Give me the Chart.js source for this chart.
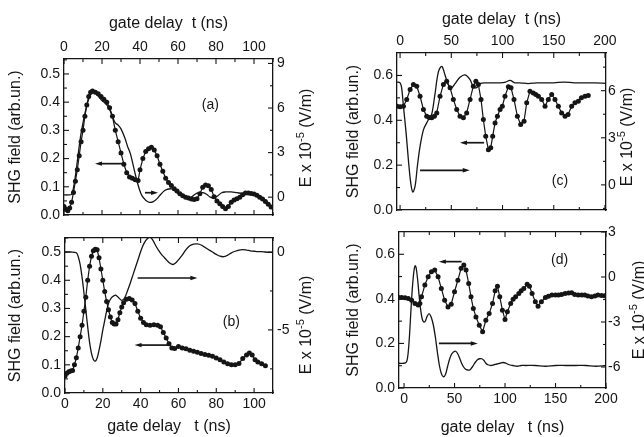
<!DOCTYPE html>
<html>
<head>
<meta charset="utf-8">
<script src="https://cdn.jsdelivr.net/npm/chart.js@4.4.0/dist/chart.umd.min.js"></script>
<style>
  html, body { margin: 0; padding: 0; background: #fff; overflow: hidden; }
  #wrap { position: relative; width: 644px; height: 437px; }
  #wrap canvas { position: absolute; left: 0; top: 0; }
</style>
</head>
<body>
<div id="wrap">
  <canvas id="pa" width="644" height="437"></canvas>
  <canvas id="pb" width="644" height="437"></canvas>
  <canvas id="pc" width="644" height="437"></canvas>
  <canvas id="pd" width="644" height="437"></canvas>
</div>
<script>
// ---- data: [t (ns), value] ----
// dotted = SHG field (left axis), line = E x 10^-5 (right axis)
const shgA = [[0,0.03],[1,0.02],[2,0.015],[3,0.025],[4,0.045],[5,0.08],[6,0.12],[7,0.16],[8,0.21],[9,0.26],[10,0.30],[11,0.35],[12,0.39],[13,0.42],[14,0.435],[15,0.44],
  [16.5,0.435],[18,0.43],[19.5,0.42],[21,0.41],[22.5,0.40],[24,0.38],[25.5,0.35],[27,0.30],[28.5,0.26],[30,0.22],[31.5,0.18],[33,0.15],[34.5,0.135],[36,0.13],[37.5,0.125],[39,0.122],
  [40,0.16],[41.5,0.2],[43,0.225],[44.5,0.235],[46,0.24],[47.5,0.23],[49,0.21],[50.5,0.18],[52,0.155],[53.5,0.13],[55,0.115],[56.5,0.105],[58,0.093],[59.5,0.085],[61,0.075],
  [62.5,0.068],[64,0.063],[65.5,0.06],[67,0.057],[68.5,0.055],[70,0.058],[71.5,0.075],[73,0.098],[74.5,0.106],[76,0.104],[77.5,0.09],[79,0.065],[80.5,0.05],[82,0.04],[83.5,0.03],
  [85,0.022],[86.5,0.03],[88,0.045],[89.5,0.053],[91,0.058],[92.5,0.063],[94,0.072],[95.5,0.078],[97,0.078],[98.5,0.076],[100,0.074],[101.5,0.07],[103,0.063],[104.5,0.057],
  [106,0.048],[107.5,0.038],[109,0.028]];
const fieldA = [[0,0.15],[2,0.15],[4,0.2],[5.5,1.0],[7,2.4],[8.5,3.9],[10,5.0],[11.5,5.9],[13,6.6],[14.5,7.0],[16,7.05],[18,6.8],[20,6.5],[22,6.3],[24,5.9],[25.5,5.4],[27,5.0],
  [28.5,4.85],[30,4.6],[32,4.0],[33.5,3.4],[35,2.9],[36.5,2.1],[38,1.3],[39.5,0.6],[41,0.1],[43,-0.2],[45,-0.35],[47,-0.3],[49,-0.1],[51,0.2],[53,0.45],[55,0.55],[57,0.55],
  [59,0.35],[61,0.15],[63,0.0],[65,-0.1],[67,0.0],[69,0.2],[71,0.3],[73,0.3],[75,0.2],[77,0.0],[79,-0.05],[81,0.1],[83,0.3],[85,0.35],[88,0.35],[91,0.3],[94,0.25],[97,0.25],
  [100,0.25],[102,0.1],[104,-0.1],[106,-0.3],[108,-0.5],[110,-0.7]];

const shgB = [[0,0.06],[1,0.07],[2,0.075],[3,0.078],[4,0.08],[5,0.1],[6,0.125],[7,0.16],[8,0.2],[9,0.24],[10,0.29],[11,0.34],[12,0.4],[13,0.45],[14,0.485],[15,0.505],[16,0.51],
  [17,0.508],[18,0.48],[19,0.44],[20,0.4],[21,0.36],[22,0.325],[23,0.295],[24,0.27],[25,0.25],[26,0.245],[27,0.245],[28,0.26],[29,0.285],[30,0.305],[31,0.32],[32.5,0.333],
  [34,0.335],[35.5,0.33],[37,0.318],[38.5,0.29],[40,0.265],[41.5,0.25],[43,0.242],[45,0.24],[47,0.242],[49,0.24],[50.5,0.235],[52,0.215],[53.5,0.195],[55,0.175],[56.5,0.16],
  [58,0.158],[60,0.165],[62,0.16],[64,0.157],[66,0.152],[68,0.148],[70,0.145],[72,0.14],[74,0.137],[76,0.134],[78,0.13],[80,0.124],[82,0.118],[84,0.11],[86,0.104],[88,0.1],
  [90,0.1],[92,0.105],[94,0.122],[96,0.135],[97.5,0.142],[99,0.135],[100.5,0.118],[102,0.11],[104,0.104],[106,0.097]];
const fieldB = [[0,0],[3,0],[6,-0.05],[7,-0.3],[8,-0.8],[9,-1.6],[10,-2.6],[11,-3.7],[12,-4.8],[13,-5.8],[14,-6.5],[15,-6.9],[16,-7.0],[17,-6.8],[18,-6.3],[19,-5.7],[20,-5.0],
  [21,-4.4],[22,-3.8],[23,-3.3],[24.5,-2.95],[26,-2.8],[27,-2.78],[28.5,-2.95],[30,-3.1],[31.5,-2.95],[33,-2.5],[34.5,-2.0],[36,-1.45],[37.5,-0.9],[39,-0.35],[40.5,0.2],
  [42,0.6],[43.5,0.85],[45,0.95],[46.5,0.75],[48,0.4],[49.5,0.1],[51,-0.15],[52.5,-0.35],[54,-0.55],[55.5,-0.72],[57,-0.8],[58.5,-0.7],[60,-0.5],[62,-0.2],[64,0.15],[66,0.4],
  [68,0.5],[70,0.52],[72,0.45],[74,0.3],[76,0.15],[78,0.0],[80,-0.15],[82,-0.27],[84,-0.3],[86,-0.2],[88,-0.05],[90,0.05],[92,0.12],[94,0.15],[96,0.12],[98,0.08],[100,0.05],
  [102,0.02],[104,0.03],[106,0.0],[108,-0.02],[110,-0.03]];

const shgC = [[-3,0.463],[0,0.46],[3.3,0.463],[6.5,0.493],[9.8,0.537],[13,0.56],[16.3,0.552],[19.5,0.507],[22.8,0.448],[26,0.418],[28.5,0.412],[30.9,0.411],[33.5,0.418],
  [35.8,0.433],[39,0.507],[42.3,0.56],[45.5,0.574],[48.8,0.545],[52,0.493],[55.3,0.448],[58.5,0.418],[61.8,0.411],[65,0.433],[68.3,0.493],[71.5,0.552],[74,0.574],[76.4,0.56],
  [79,0.493],[81.3,0.403],[83.6,0.329],[86.2,0.269],[88.5,0.277],[90.4,0.329],[92.7,0.388],[95,0.418],[97.6,0.448],[99.8,0.463],[102.4,0.507],[105.7,0.549],[108.3,0.545],
  [111.2,0.493],[114.5,0.418],[117.7,0.381],[121,0.396],[123.6,0.478],[126.8,0.53],[130,0.522],[132.5,0.515],[135,0.507],[138.2,0.493],[141.5,0.463],[144.7,0.493],[148,0.515],
  [151.2,0.493],[154.5,0.463],[157.7,0.433],[161,0.418],[164,0.426],[167.5,0.463],[170.7,0.478],[174,0.485],[177,0.5],[180.5,0.507],[183.7,0.51]];
const fieldC = [[-3,6.55],[0,6.5],[1.5,6.2],[3.3,5.0],[5.9,3.3],[8.1,1.6],[10.4,0.13],[12.4,-0.45],[14.6,-0.1],[16.9,1.2],[19.5,2.45],[22.8,3.5],[26,3.95],[28.6,4.25],
  [30.9,4.5],[34.1,5.8],[37.4,7.2],[40.7,7.55],[43.9,7.0],[47.2,6.35],[50.4,6.2],[53.7,6.45],[58.5,6.85],[63.4,7.0],[68.3,6.7],[71.5,6.25],[74.8,6.2],[78,6.45],[84.6,6.5],
  [90,6.5],[97.6,6.5],[103,6.55],[107.3,6.65],[112,6.5],[117,6.5],[125,6.45],[133,6.5],[140,6.5],[150,6.5],[160,6.55],[170,6.5],[180,6.5],[190,6.5],[201,6.47]];

const shgD = [[-5,0.406],[-2.3,0.406],[1,0.405],[4.2,0.402],[7.5,0.394],[10.8,0.379],[14,0.372],[15.7,0.379],[17.3,0.409],[20.6,0.462],[23.9,0.499],[27.1,0.522],[30.4,0.529],
  [33.7,0.499],[36.9,0.447],[40.2,0.394],[43.5,0.364],[46.7,0.376],[50,0.432],[53.3,0.484],[56.5,0.537],[59.2,0.552],[61.4,0.529],[64,0.469],[66.3,0.409],[68.6,0.357],
  [71.2,0.319],[74.5,0.282],[77.8,0.252],[81,0.304],[84.3,0.334],[87.6,0.379],[90.2,0.436],[92.5,0.457],[94.8,0.409],[97.4,0.349],[100,0.307],[102.3,0.342],[105.6,0.379],
  [108,0.398],[110.5,0.409],[113.7,0.424],[116,0.436],[118.6,0.447],[121.9,0.466],[124.2,0.457],[126.8,0.424],[130,0.387],[132.7,0.367],[136,0.387],[140,0.406],[143,0.412],
  [146.4,0.417],[150,0.417],[153,0.417],[156,0.42],[159.5,0.424],[163,0.426],[166,0.427],[169,0.42],[172.5,0.417],[176,0.417],[179,0.417],[182,0.413],[185.6,0.409],
  [189,0.413],[192,0.417],[195.5,0.415],[198.7,0.414]];
const fieldD = [[-5,-5.75],[0,-5.75],[2.5,-5.65],[4,-5.1],[5.5,-3.8],[7,-2.0],[8.5,-0.5],[10,0.5],[11,0.75],[12,0.6],[13.5,-0.2],[15,-1.3],[16.5,-2.2],[18,-2.8],[19.5,-3.0],
  [21,-2.95],[23,-2.6],[25,-2.45],[27,-2.7],[29,-3.2],[31,-4.0],[33,-5.0],[35,-5.9],[37,-6.45],[39,-6.65],[41,-6.5],[43,-6.0],[45,-5.5],[47,-5.15],[49,-5.0],[51,-4.95],
  [53,-5.1],[55,-5.4],[57,-5.75],[59,-6.0],[61,-6.15],[63,-6.2],[65,-6.2],[67,-6.05],[69,-5.85],[71,-5.65],[73,-5.5],[75,-5.45],[77,-5.45],[79,-5.55],[81,-5.75],[83,-5.85],
  [86,-5.9],[89,-5.85],[92,-5.8],[95,-5.75],[98,-5.7],[101,-5.75],[104,-5.85],[108,-5.9],[112,-5.95],[116,-5.9],[120,-5.9],[130,-5.9],[140,-5.95],[150,-5.9],[160,-5.9],
  [170,-5.9],[180,-5.9],[190,-5.95],[200,-5.9]];

// ---- tick labels ----
const xTicksAB = [0, 20, 40, 60, 80, 100];
const xTicksCD = [0, 50, 100, 150, 200];
const shgTicksAB = [0, 0.1, 0.2, 0.3, 0.4, 0.5];
const shgTicksCD = [0, 0.2, 0.4, 0.6];
const fieldTicksA = [0, 3, 6, 9];
const fieldTicksB = [0, -5];
const fieldTicksC = [0, 3, 6];
const fieldTicksD = [3, 0, -3, -6];

const INK = '#151515';
const FONT = 'Arial, "Liberation Sans", Helvetica, sans-serif';

// inward tick marks, arrows, panel letter and the right-hand axis title
const extras = {
  id: 'extras',
  afterDraw(chart, args, o) {
    const ctx = chart.ctx, a = chart.chartArea;
    const sx = chart.scales.x, sy = chart.scales.y;
    ctx.save();
    ctx.strokeStyle = INK;
    ctx.lineWidth = 1.1;
    Object.values(chart.scales).forEach(s => {
      const vals = s.ticks.map(t => t.value);
      const step = vals.length > 1 ? vals[1] - vals[0] : 0;
      const marks = vals.map(v => [v, 5]);
      if (step) {
        for (let i = -1; i < vals.length; i++) marks.push([vals[0] + (i + 0.5) * step, 3]);
      }
      const lo = Math.min(s.min, s.max), hi = Math.max(s.min, s.max);
      marks.forEach(([v, len]) => {
        if (v < lo || v > hi) return;
        const p = s.getPixelForValue(v);
        ctx.beginPath();
        if (s.isHorizontal()) {
          const y0 = s.position === 'top' ? a.top : a.bottom;
          const d = s.position === 'top' ? len : -len;
          ctx.moveTo(p, y0); ctx.lineTo(p, y0 + d);
        } else {
          const x0 = s.position === 'left' ? a.left : a.right;
          const d = s.position === 'left' ? len : -len;
          ctx.moveTo(x0, p); ctx.lineTo(x0 + d, p);
        }
        ctx.stroke();
      });
    });

    // arrows showing which axis a curve belongs to
    ctx.fillStyle = INK;
    (o.arrows || []).forEach(ar => {
      const x1 = sx.getPixelForValue(ar.from), x2 = sx.getPixelForValue(ar.to);
      const y = sy.getPixelForValue(ar.y);
      const dir = Math.sign(x2 - x1);
      ctx.lineWidth = 1.7;
      ctx.beginPath(); ctx.moveTo(x1, y); ctx.lineTo(x2 - dir * 4, y); ctx.stroke();
      ctx.beginPath();
      ctx.moveTo(x2, y); ctx.lineTo(x2 - dir * 7, y - 2.2); ctx.lineTo(x2 - dir * 7, y + 2.2);
      ctx.closePath(); ctx.fill();
    });

    // panel letter
    if (o.letter) {
      ctx.font = '14px ' + FONT;
      ctx.textAlign = 'center'; ctx.textBaseline = 'middle';
      ctx.fillText(o.letter.text, sx.getPixelForValue(o.letter.x), sy.getPixelForValue(o.letter.y));
    }

    // right axis title, read bottom to top, with superscript exponent
    if (o.rTitle) {
      const big = '16px ' + FONT, small = '11px ' + FONT;
      const parts = [['E x 10', big, 0], ['-5', small, -6], [' (V/m)', big, 0]];
      let total = 0;
      const widths = parts.map(([t, f]) => { ctx.font = f; const w = ctx.measureText(t).width; total += w; return w; });
      ctx.translate(o.rTitle.x, o.rTitle.y);
      ctx.rotate(-Math.PI / 2);
      ctx.textAlign = 'left'; ctx.textBaseline = 'middle';
      let cx = -total / 2;
      parts.forEach(([t, f, dy], i) => { ctx.font = f; ctx.fillText(t, cx, dy); cx += widths[i]; });
    }
    ctx.restore();
  }
};

function panel(id, p) {
  const xTop = p.xSide === 'top';
  const tickFont = { family: FONT, size: 14 };
  const titleFont = { family: FONT, size: 16, lineHeight: 1 };
  const fixTicks = list => s => { s.ticks = list.map(v => ({ value: v })); };
  const common = { type: 'linear', grid: { display: false, drawTicks: false }, border: { color: INK, width: 1.3 } };

  new Chart(document.getElementById(id), {
    type: 'scatter',
    data: {
      datasets: [
        {
          data: p.shg.map(([x, y]) => ({ x, y })),
          xAxisID: 'x', yAxisID: 'y', showLine: true,
          borderColor: INK, borderWidth: 1.2,
          pointRadius: 2.5, pointBackgroundColor: INK, pointBorderWidth: 0
        },
        {
          data: p.field.map(([x, y]) => ({ x, y })),
          xAxisID: 'x', yAxisID: 'y2', showLine: true,
          borderColor: INK, borderWidth: 1.3, pointRadius: 0, tension: 0.35
        }
      ]
    },
    options: {
      responsive: false,
      devicePixelRatio: 1,
      animation: false,
      events: [],
      layout: { padding: { left: p.outer.l, top: p.outer.t, right: 644 - p.outer.r, bottom: 437 - p.outer.b } },
      plugins: {
        legend: { display: false },
        tooltip: { enabled: false },
        extras: { arrows: p.arrows, letter: p.letter, rTitle: p.rTitle }
      },
      scales: {
        x: {
          ...common, position: p.xSide, min: p.xMin, max: p.xMax,
          afterBuildTicks: fixTicks(p.xTicks),
          ticks: { font: tickFont, color: INK, padding: 3, maxRotation: 0, autoSkip: false },
          title: { display: true, text: p.xTitle, font: titleFont, color: INK, padding: 0 },
          afterFit: s => { s.height = xTop ? p.plot.t - p.outer.t : p.outer.b - p.plot.b; }
        },
        x2: {
          ...common, position: xTop ? 'bottom' : 'top', min: p.xMin, max: p.xMax,
          afterBuildTicks: fixTicks(p.xTicks),
          ticks: { display: false },
          afterFit: s => { s.height = xTop ? p.outer.b - p.plot.b : p.plot.t - p.outer.t; }
        },
        y: {
          ...common, position: 'left', min: p.yMin, max: p.yMax,
          afterBuildTicks: fixTicks(p.yTicks),
          ticks: { font: tickFont, color: INK, padding: 4, callback: v => v.toFixed(1) },
          title: { display: true, text: 'SHG field (arb.un.)', font: titleFont, color: INK, padding: 0 },
          afterFit: s => { s.width = p.plot.l - p.outer.l; }
        },
        y2: {
          ...common, position: 'right', min: p.y2Min, max: p.y2Max,
          afterBuildTicks: fixTicks(p.y2Ticks),
          ticks: { font: tickFont, color: INK, padding: p.rPad, callback: v => String(v) },
          afterFit: s => { s.width = p.outer.r - p.plot.r; }
        }
      }
    },
    plugins: [extras]
  });
}

panel('pa', {
  shg: shgA, field: fieldA, xSide: 'top', xTitle: 'gate delay  t (ns)',
  xMin: 0, xMax: 110, xTicks: xTicksAB,
  yMin: 0, yMax: 0.553, yTicks: shgTicksAB,
  y2Min: -1.2, y2Max: 9.3, y2Ticks: fieldTicksA, rPad: 4,
  plot: { l: 64, t: 59, r: 273, b: 215 }, outer: { l: 8, t: 16, r: 320, b: 230 },
  rTitle: { x: 307, y: 138 },
  letter: { text: '(a)', x: 77, y: 0.39 },
  arrows: [{ from: 30.5, to: 16.3, y: 0.182 }, { from: 42.6, to: 49.5, y: 0.079 }]
});

panel('pb', {
  shg: shgB, field: fieldB, xSide: 'bottom', xTitle: 'gate delay   t (ns)',
  xMin: 0, xMax: 110, xTicks: xTicksAB,
  yMin: 0, yMax: 0.55, yTicks: shgTicksAB,
  y2Min: -9.05, y2Max: 0.9, y2Ticks: fieldTicksB, rPad: 4,
  plot: { l: 65, t: 238, r: 273, b: 393 }, outer: { l: 8, t: 225, r: 320, b: 435 },
  rTitle: { x: 307, y: 325 },
  letter: { text: '(b)', x: 88, y: 0.25 },
  arrows: [{ from: 38.4, to: 70, y: 0.408 }, { from: 54.7, to: 36.8, y: 0.17 }]
});

panel('pc', {
  shg: shgC, field: fieldC, xSide: 'top', xTitle: 'gate delay  t (ns)',
  xMin: -3, xMax: 201, xTicks: xTicksCD,
  yMin: 0, yMax: 0.7, yTicks: shgTicksCD,
  y2Min: -1.6, y2Max: 8.4, y2Ticks: fieldTicksC, rPad: 2,
  plot: { l: 397, t: 53, r: 606, b: 210 }, outer: { l: 346, t: 12, r: 644, b: 225 },
  rTitle: { x: 628, y: 137 },
  letter: { text: '(c)', x: 156, y: 0.13 },
  arrows: [{ from: 82, to: 58.5, y: 0.30 }, { from: 19.5, to: 68, y: 0.177 }]
});

panel('pd', {
  shg: shgD, field: fieldD, xSide: 'bottom', xTitle: 'gate delay   t (ns)',
  xMin: -5, xMax: 200, xTicks: xTicksCD,
  yMin: 0, yMax: 0.7, yTicks: shgTicksCD,
  y2Min: -7.4, y2Max: 3, y2Ticks: fieldTicksD, rPad: 2,
  plot: { l: 399, t: 232, r: 606, b: 388 }, outer: { l: 346, t: 222, r: 644, b: 436 },
  rTitle: { x: 640, y: 310 },
  letter: { text: '(d)', x: 154, y: 0.575 },
  arrows: [{ from: 57, to: 34.5, y: 0.567 }, { from: 34.5, to: 73, y: 0.2 }]
});
</script>
</body>
</html>
